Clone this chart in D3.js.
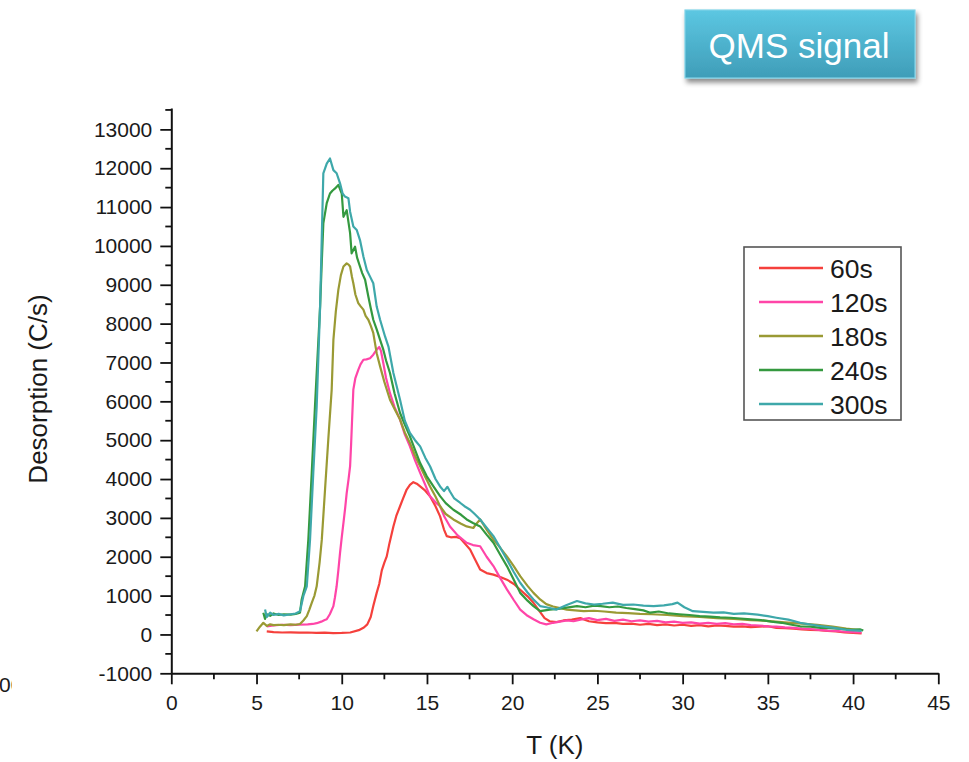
<!DOCTYPE html>
<html>
<head>
<meta charset="utf-8">
<script src="https://cdn.jsdelivr.net/npm/d3@7"></script>
<style>
  html, body { margin: 0; padding: 0; background: #fff; }
  svg { display: block; }
  text { font-family: "Liberation Sans", Arial, Helvetica, sans-serif; }
</style>
</head>
<body>
<svg id="chart" width="969" height="762"></svg>
<script>
// TPD desorption traces: [temperature K, counts/s] for each deposition time
const s60 = [[5.6,80],[6.0,60],[6.5,50],[7.0,55],[7.5,45],[8.0,50],[8.5,40],[9.0,45],[9.5,35],[10.0,40],[10.5,50],[11.0,110],[11.3,180],[11.5,260],[11.7,450],[11.85,730],[12.05,1070],[12.2,1300],[12.35,1650],[12.5,1850],[12.64,2010],[12.8,2350],[13.03,2780],[13.2,3050],[13.42,3300],[13.6,3500],[13.81,3730],[14.0,3850],[14.2,3920],[14.4,3880],[14.6,3810],[14.9,3700],[15.18,3555],[15.5,3300],[15.77,3040],[16.0,2700],[16.16,2530],[16.4,2500],[16.7,2510],[16.94,2480],[17.2,2350],[17.53,2185],[17.8,1950],[18.12,1670],[18.5,1580],[18.9,1540],[19.3,1480],[19.69,1410],[20.1,1300],[20.47,1150],[20.9,980],[21.25,815],[21.6,600],[21.9,420],[22.2,340],[22.6,320],[23.0,360],[23.5,380],[24.0,420],[24.5,340],[25.0,310],[25.5,290],[26.0,300],[26.5,270],[27.0,280],[27.5,250],[28.0,270],[28.5,240],[29.0,260],[29.5,230],[30.0,250],[30.5,220],[31.0,240],[31.5,210],[32.0,230],[32.5,220],[33.0,200],[33.5,210],[34.0,190],[34.5,200],[35.0,210],[35.5,170],[36.0,160],[36.5,150],[37.0,130],[37.5,120],[38.0,110],[38.5,90],[39.0,80],[39.5,50],[40.0,40],[40.5,30]];

const s120 = [[5.6,210],[6.0,230],[6.5,250],[7.0,240],[7.5,255],[8.0,260],[8.3,270],[8.53,290],[8.8,330],[9.0,370],[9.12,390],[9.3,520],[9.51,730],[9.6,950],[9.7,1240],[9.8,1650],[9.9,2100],[10.0,2500],[10.1,2870],[10.2,3250],[10.29,3640],[10.4,4000],[10.49,4330],[10.55,4900],[10.6,5450],[10.68,6300],[10.8,6600],[10.97,6810],[11.1,6950],[11.27,7070],[11.45,7080],[11.66,7110],[11.85,7200],[12.05,7330],[12.2,7400],[12.3,7300],[12.44,6980],[12.6,6600],[12.83,6210],[13.1,5850],[13.42,5530],[13.7,5150],[14.0,4840],[14.3,4480],[14.6,4160],[14.9,3850],[15.18,3555],[15.5,3400],[15.77,3300],[16.0,3050],[16.35,2780],[16.8,2550],[17.33,2360],[17.7,2300],[18.12,2270],[18.5,2000],[18.9,1760],[19.3,1450],[19.69,1160],[20.1,880],[20.47,640],[20.9,480],[21.25,390],[21.64,300],[22.0,260],[22.4,300],[22.8,330],[23.2,360],[23.6,340],[24.0,380],[24.5,420],[25.0,370],[25.5,400],[26.0,350],[26.5,380],[27.0,340],[27.5,360],[28.0,330],[28.5,350],[29.0,310],[29.5,330],[30.0,300],[30.5,310],[31.0,280],[31.5,300],[32.0,270],[32.5,290],[33.0,260],[33.5,270],[34.0,240],[34.5,230],[35.0,210],[35.5,200],[36.0,180],[36.5,170],[37.0,150],[37.5,140],[38.0,120],[38.5,100],[39.0,90],[39.5,70],[40.0,60],[40.5,50]];

const s180 = [[5.0,80],[5.2,200],[5.4,300],[5.6,220],[5.8,260],[6.0,240],[6.3,250],[6.6,240],[7.0,260],[7.3,250],[7.55,270],[7.75,360],[7.95,470],[8.1,640],[8.24,815],[8.4,1000],[8.53,1240],[8.7,1850],[8.83,2440],[9.02,3730],[9.21,5010],[9.41,6300],[9.51,7580],[9.65,8300],[9.8,8870],[9.95,9250],[10.1,9470],[10.29,9550],[10.4,9520],[10.49,9470],[10.6,9200],[10.68,9040],[10.8,8750],[10.97,8530],[11.1,8450],[11.27,8360],[11.4,8200],[11.56,8100],[11.7,7950],[11.85,7760],[12.05,7240],[12.25,6900],[12.5,6500],[12.83,6040],[13.1,5800],[13.42,5530],[13.7,5200],[14.0,4930],[14.3,4600],[14.6,4330],[14.9,4050],[15.18,3810],[15.5,3550],[15.77,3300],[16.1,3100],[16.55,2960],[17.0,2850],[17.33,2780],[17.72,2740],[17.9,2850],[18.12,2960],[18.5,2700],[18.9,2440],[19.3,2230],[19.69,2010],[20.1,1750],[20.47,1500],[20.9,1250],[21.25,1070],[21.64,900],[22.0,780],[22.4,720],[22.8,680],[23.2,640],[23.7,620],[24.2,600],[24.8,610],[25.4,590],[26.1,560],[26.8,550],[27.5,530],[28.2,520],[29.1,500],[30.0,470],[31.0,450],[32.0,420],[33.0,400],[34.0,370],[34.9,350],[36.0,310],[37.0,280],[37.9,250],[38.8,200],[39.6,150],[40.4,110]];

const s240 = [[5.4,560],[5.5,400],[5.6,520],[5.8,480],[6.0,540],[6.3,500],[6.6,520],[7.0,510],[7.3,530],[7.55,560],[7.65,900],[7.85,1240],[8.04,2440],[8.24,4160],[8.43,5870],[8.63,7580],[8.73,8440],[8.83,9600],[8.92,10580],[9.12,11100],[9.31,11350],[9.45,11420],[9.61,11480],[9.8,11570],[10.0,11350],[10.1,10750],[10.29,10920],[10.49,10330],[10.58,9810],[10.78,9980],[10.9,9700],[11.07,9470],[11.2,9300],[11.37,9130],[11.56,8700],[11.7,8400],[11.85,8100],[12.05,7850],[12.25,7580],[12.44,7330],[12.6,7050],[12.83,6730],[13.1,6200],[13.42,5700],[13.7,5400],[14.0,5100],[14.3,4750],[14.6,4410],[14.99,4070],[15.4,3800],[15.77,3560],[16.1,3380],[16.55,3210],[17.0,3080],[17.33,2960],[17.7,2870],[18.12,2780],[18.5,2570],[18.9,2360],[19.3,2050],[19.69,1760],[20.1,1400],[20.47,1070],[20.9,870],[21.25,730],[21.64,600],[22.2,640],[22.7,660],[23.2,690],[23.8,730],[24.3,700],[24.8,740],[25.2,730],[25.7,700],[26.2,720],[26.7,680],[27.2,650],[27.7,620],[28.1,560],[28.6,590],[29.2,540],[29.8,520],[30.4,500],[31.0,470],[31.6,460],[32.2,440],[32.8,430],[33.4,410],[34.0,390],[34.6,370],[35.2,330],[35.8,300],[36.4,250],[36.9,210],[37.5,200],[38.1,170],[38.7,160],[39.3,140],[39.9,120],[40.4,130],[40.6,100]];

const s300 = [[5.5,640],[5.6,450],[5.8,560],[6.0,500],[6.3,530],[6.6,490],[7.0,520],[7.3,540],[7.55,600],[7.75,990],[7.95,1240],[8.14,2440],[8.33,4160],[8.53,5870],[8.73,8440],[8.92,11870],[9.12,12120],[9.31,12250],[9.51,11950],[9.7,11870],[9.9,11610],[10.05,11350],[10.19,11270],[10.39,11230],[10.49,10880],[10.68,10500],[10.88,10410],[11.07,10150],[11.27,9730],[11.47,9380],[11.66,9210],[11.85,9040],[12.05,8440],[12.25,8100],[12.54,7670],[12.74,7410],[13.03,6730],[13.42,6040],[13.7,5500],[14.0,5190],[14.3,5000],[14.6,4840],[14.9,4550],[15.18,4330],[15.5,4000],[15.77,3810],[16.0,3690],[16.2,3800],[16.35,3680],[16.6,3500],[16.94,3390],[17.2,3300],[17.53,3210],[17.8,3100],[18.12,2960],[18.5,2750],[18.9,2530],[19.3,2230],[19.69,1930],[20.1,1600],[20.47,1330],[20.9,1080],[21.25,900],[21.64,730],[22.0,700],[22.6,640],[23.2,760],[23.8,860],[24.3,800],[24.8,770],[25.3,790],[25.9,820],[26.5,760],[27.1,770],[27.7,740],[28.3,730],[28.9,750],[29.4,780],[29.7,820],[30.1,700],[30.6,600],[31.2,580],[31.8,560],[32.4,570],[33.0,530],[33.6,540],[34.4,510],[35.0,470],[35.5,430],[36.2,380],[36.9,300],[37.6,250],[38.2,210],[38.9,170],[39.6,120],[40.5,90]];

const seriesNames = ["60s", "120s", "180s", "240s", "300s"];
const seriesData = [s60, s120, s180, s240, s300];
const seriesColors = ["#f5403c", "#ff45a8", "#9a9a34", "#34993f", "#3ea8aa"];

const xTicks = [0, 5, 10, 15, 20, 25, 30, 35, 40, 45];
const yTicks = [-1000, 0, 1000, 2000, 3000, 4000, 5000, 6000, 7000, 8000, 9000, 10000, 11000, 12000, 13000];

const svg = d3.select("#chart");

// Scales
const x = d3.scaleLinear().domain([0, 45]).range([171.3, 938.3]);
const y = d3.scaleLinear().domain([-1000, 13550]).range([673.3, 108]);

const tickFont = 21;
const axisColor = "#111";
const plain = d => String(d);   // keeps an ASCII hyphen on "-1000"

// Minor ticks
const xMinor = d3.range(0, 45.01, 2.5).filter(v => v % 5 !== 0);
const yMinor = d3.range(-1000, 13501, 500).filter(v => v % 1000 !== 0);

const gx = svg.append("g").attr("transform", `translate(0,${y(-1000)})`);
gx.call(d3.axisBottom(x).tickValues(xTicks).tickFormat(plain).tickSize(11).tickPadding(11).tickSizeOuter(0));
gx.append("g").selectAll("line").data(xMinor).join("line")
  .attr("x1", d => x(d)).attr("x2", d => x(d)).attr("y1", 0).attr("y2", 6)
  .attr("stroke", axisColor).attr("stroke-width", 1.8);

const gy = svg.append("g").attr("transform", `translate(${x(0)},0)`);
gy.call(d3.axisLeft(y).tickValues(yTicks).tickFormat(plain).tickSize(11).tickPadding(8).tickSizeOuter(0));
gy.append("g").selectAll("line").data(yMinor).join("line")
  .attr("y1", d => y(d)).attr("y2", d => y(d)).attr("x1", 0).attr("x2", -6)
  .attr("stroke", axisColor).attr("stroke-width", 1.8);

[gx, gy].forEach(g => {
  g.select(".domain").attr("stroke", axisColor).attr("stroke-width", 2);
  g.selectAll(".tick line").attr("stroke", axisColor).attr("stroke-width", 1.8);
  g.selectAll(".tick text").attr("font-size", tickFont).attr("fill", "#1a1a1a")
    .attr("font-family", "'Liberation Sans', Arial, sans-serif");
});

// Axis titles
svg.append("text")
  .attr("x", (x(0) + x(45)) / 2).attr("y", 754)
  .attr("text-anchor", "middle").attr("font-size", 26).attr("fill", "#1a1a1a")
  .text("T (K)");

svg.append("text")
  .attr("transform", `translate(47,${389}) rotate(-90)`)
  .attr("text-anchor", "middle").attr("font-size", 26).attr("fill", "#1a1a1a")
  .text("Desorption (C/s)");

// Curves
const line = d3.line().x(d => x(d[0])).y(d => y(d[1]));
svg.append("g").selectAll("path").data(seriesData).join("path")
  .attr("d", line)
  .attr("fill", "none")
  .attr("stroke", (d, i) => seriesColors[i])
  .attr("stroke-width", 2.2)
  .attr("stroke-linejoin", "round");

// Legend
const legend = svg.append("g");
legend.append("rect")
  .attr("x", 744).attr("y", 247).attr("width", 157).attr("height", 173)
  .attr("fill", "#fff").attr("stroke", "#555").attr("stroke-width", 1.6);
const rows = legend.selectAll("g.row").data(seriesNames).join("g")
  .attr("class", "row")
  .attr("transform", (d, i) => `translate(0,${268 + i * 34})`);
rows.append("line")
  .attr("x1", 759).attr("x2", 823).attr("y1", 0).attr("y2", 0)
  .attr("stroke", (d, i) => seriesColors[i]).attr("stroke-width", 2.5);
rows.append("text")
  .attr("x", 830).attr("y", 9.5)
  .attr("font-size", 26.5).attr("fill", "#1a1a1a")
  .text(d => d);

// Label box above the plot
const defs = svg.append("defs");
const grad = defs.append("linearGradient").attr("id", "boxGrad")
  .attr("x1", 0).attr("y1", 0).attr("x2", 0).attr("y2", 1);
grad.append("stop").attr("offset", "0%").attr("stop-color", "#5cc7e2");
grad.append("stop").attr("offset", "100%").attr("stop-color", "#3f9db8");
const shadow = defs.append("filter").attr("id", "boxShadow")
  .attr("x", "-10%").attr("y", "-20%").attr("width", "130%").attr("height", "160%");
shadow.append("feDropShadow").attr("dx", 2).attr("dy", 4).attr("stdDeviation", 2.5)
  .attr("flood-color", "#000").attr("flood-opacity", 0.45);

svg.append("rect")
  .attr("x", 685).attr("y", 10).attr("width", 230).attr("height", 68)
  .attr("fill", "url(#boxGrad)").attr("stroke", "#7fd3e8").attr("stroke-width", 1.2)
  .attr("filter", "url(#boxShadow)");
svg.append("text")
  .attr("x", 799).attr("y", 58)
  .attr("text-anchor", "middle")
  .attr("font-family", "'Open Sans', Lato, sans-serif")
  .attr("font-size", 35).attr("fill", "#fff")
  .text("QMS signal");

// Partial label at the left edge
const clip = defs.append("clipPath").attr("id", "edgeClip");
clip.append("rect").attr("x", 0).attr("y", 670).attr("width", 12).attr("height", 30);
svg.append("text")
  .attr("x", -1).attr("y", 692)
  .attr("font-size", 21).attr("fill", "#1a1a1a")
  .attr("clip-path", "url(#edgeClip)")
  .text("00");
</script>
</body>
</html>
